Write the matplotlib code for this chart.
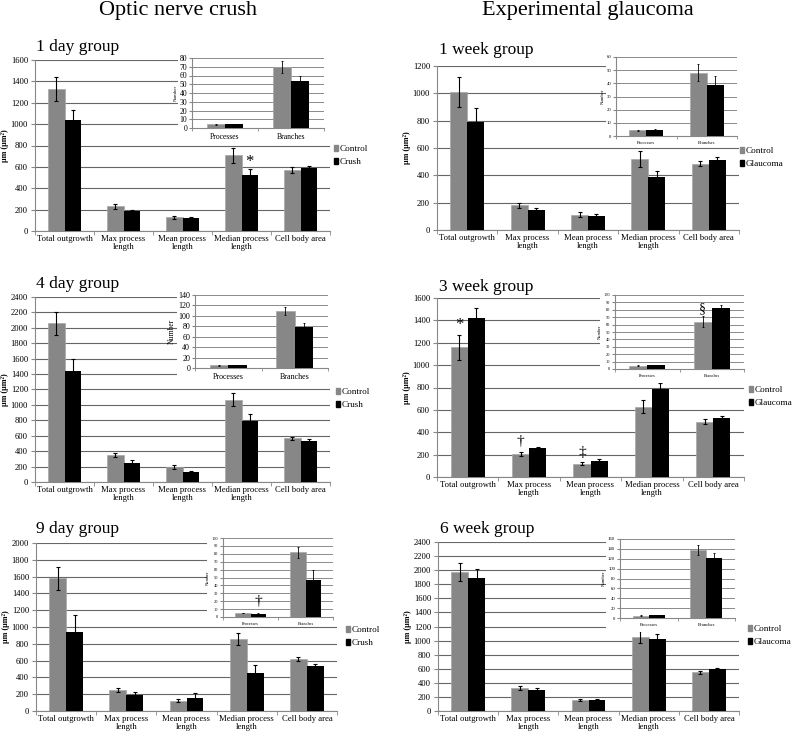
import matplotlib
matplotlib.use("Agg")
import matplotlib.pyplot as plt
from matplotlib.patches import Rectangle
import numpy as np

plt.rcParams["font.family"] = ["Liberation Serif", "DejaVu Serif"]

W, H = 794, 735

CATEGORIES = ["Total outgrowth", "Max process\nlength", "Mean process\nlength",
              "Median process\nlength", "Cell body area"]
INSET_CATS = ["Processes", "Branches"]

# 1 day group (optic nerve crush)
day1_ctrl = [1330, 230, 130, 710, 570]
day1_ctrl_err = [110, 20, 15, 70, 25]
day1_crush = [1035, 185, 118, 525, 585]
day1_crush_err = [100, 15, 12, 55, 20]
day1_in_ctrl = [4.5, 70]
day1_in_ctrl_err = [0.5, 7]
day1_in_crush = [4.3, 54]
day1_in_crush_err = [0.5, 6]

# 4 day group
day4_ctrl = [2060, 350, 195, 1070, 565]
day4_ctrl_err = [150, 30, 25, 90, 25]
day4_crush = [1440, 250, 130, 795, 535]
day4_crush_err = [150, 30, 15, 90, 25]
day4_in_ctrl = [5, 109]
day4_in_ctrl_err = [0.5, 8]
day4_in_crush = [5, 78]
day4_in_crush_err = [0.5, 9]

# 9 day group
day9_ctrl = [1580, 250, 125, 855, 620]
day9_ctrl_err = [140, 20, 15, 75, 25]
day9_crush = [945, 185, 150, 455, 530]
day9_crush_err = [200, 45, 60, 95, 35]
day9_in_ctrl = [5, 82]
day9_in_ctrl_err = [0.5, 7]
day9_in_crush = [4, 47]
day9_in_crush_err = [0.5, 12]

# 1 week group (experimental glaucoma)
wk1_ctrl = [1010, 180, 112, 518, 485]
wk1_ctrl_err = [110, 20, 18, 60, 20]
wk1_glau = [790, 145, 105, 385, 515]
wk1_glau_err = [105, 18, 15, 50, 22]
wk1_in_ctrl = [4.5, 48]
wk1_in_ctrl_err = [0.4, 6.5]
wk1_in_glau = [4.8, 39]
wk1_in_glau_err = [0.3, 6.5]

# 3 week group
wk3_ctrl = [1160, 205, 120, 630, 495]
wk3_ctrl_err = [110, 20, 15, 60, 20]
wk3_glau = [1420, 255, 145, 785, 530]
wk3_glau_err = [90, 15, 15, 55, 18]
wk3_in_ctrl = [4.5, 64]
wk3_in_ctrl_err = [0.5, 7]
wk3_in_glau = [5, 82]
wk3_in_glau_err = [0.5, 5]

# 6 week group
wk6_ctrl = [1970, 330, 155, 1050, 550]
wk6_ctrl_err = [130, 30, 20, 80, 25]
wk6_glau = [1890, 305, 160, 1020, 595]
wk6_glau_err = [130, 25, 15, 80, 20]
wk6_in_ctrl = [5, 137]
wk6_in_ctrl_err = [0.5, 10]
wk6_in_glau = [5.5, 121]
wk6_in_glau_err = [0.5, 10]

GRAY = "#878787"
GRID = "#666666"


def rect(x0, yt, x1, yb):
    return [x0 / W, 1 - yb / H, (x1 - x0) / W, (yb - yt) / H]


def bars(ax, ctrl, ctrl_err, other, other_err, bw, capsize, elw):
    x = np.arange(len(ctrl))
    ax.bar(x - bw / 2, ctrl, bw, color=GRAY, edgecolor="#a8a8a8", linewidth=0.5, zorder=3)
    ax.bar(x + bw / 2, other, bw, color="black", zorder=3)
    ax.errorbar(x - bw / 2, ctrl, yerr=ctrl_err, fmt="none", ecolor="black",
                elinewidth=elw, capsize=capsize, capthick=elw, zorder=4)
    ax.errorbar(x + bw / 2, other, yerr=other_err, fmt="none", ecolor="black",
                elinewidth=elw, capsize=capsize, capthick=elw, zorder=4)
    ax.set_xlim(-0.5, len(ctrl) - 0.5)
    ax.set_xticks(np.arange(len(ctrl) + 1) - 0.5, minor=True)
    ax.tick_params(axis="x", which="minor", length=3, color="#888888")
    ax.tick_params(axis="x", which="major", length=0)
    for s in ["top", "right"]:
        ax.spines[s].set_visible(False)
    for s in ["left", "bottom"]:
        ax.spines[s].set_color("#888888")
        ax.spines[s].set_linewidth(0.8)
    ax.set_axisbelow(True)


def panel(fig, main_box, ymax, ystep, ctrl, ctrl_err, other, other_err,
          inset_box, inset_ymax, inset_step, in_ctrl, in_ctrl_err, in_other, in_other_err,
          inset_fs, number_fs, white_box, title, title_xy, legend_xy, other_name):
    ax = fig.add_axes(rect(*main_box), zorder=1)
    bars(ax, ctrl, ctrl_err, other, other_err, 0.28, 1.5, 0.8)
    ax.set_ylim(0, ymax)
    ax.set_yticks(np.arange(0, ymax + 1, ystep))
    ax.yaxis.grid(True, color=GRID, linewidth=0.8)
    ax.set_xticks(np.arange(5))
    ax.set_xticklabels(CATEGORIES, fontsize=6.2, linespacing=1.05)
    ax.tick_params(axis="x", which="major", pad=3)
    ax.tick_params(axis="y", labelsize=6.2, length=3, color="#888888", pad=2)

    fig.text((main_box[0] - 30) / W, 1 - (main_box[1] + main_box[3]) / 2 / H, "μm (μm²)",
             rotation=90, ha="center", va="center", fontsize=5.8, fontweight="bold")
    fig.text(title_xy[0] / W, 1 - title_xy[1] / H, title, fontsize=12.5,
             ha="left", va="center")

    x0, yt, x1, yb = white_box
    fig.patches.append(Rectangle((x0 / W, 1 - yb / H), (x1 - x0) / W, (yb - yt) / H,
                                 transform=fig.transFigure, facecolor="white",
                                 edgecolor="none", zorder=2))

    ins = fig.add_axes(rect(*inset_box), zorder=3)
    bars(ins, in_ctrl, in_ctrl_err, in_other, in_other_err, 0.28, 1, 0.6)
    ins.set_ylim(0, inset_ymax)
    ins.set_yticks(np.arange(0, inset_ymax + 1, inset_step))
    ins.yaxis.grid(True, color="#8a8a8a", linewidth=0.7)
    ins.set_xticks(np.arange(2))
    ins.set_xticklabels(INSET_CATS, fontsize=inset_fs)
    ins.tick_params(axis="y", labelsize=inset_fs, length=2, color="#888888", pad=1.5)
    ins.tick_params(axis="x", which="minor", length=2)
    ins.set_ylabel("Number", fontsize=number_fs, labelpad=1.5)

    handles = [Rectangle((0, 0), 1, 1, color=GRAY), Rectangle((0, 0), 1, 1, color="black")]
    fig.legend(handles, ["Control", other_name], loc="upper left",
               bbox_to_anchor=(legend_xy[0] / W, 1 - legend_xy[1] / H),
               frameon=False, fontsize=6.6, handlelength=0.45, handleheight=0.7,
               handletextpad=0.15, labelspacing=0.45, borderpad=0, borderaxespad=0)
    return ax, ins


fig = plt.figure(figsize=(W / 100, H / 100), dpi=100)

fig.text(178 / W, 1 - 11 / H, "Optic nerve crush", fontsize=16, ha="center", va="center")
fig.text(588 / W, 1 - 11 / H, "Experimental glaucoma", fontsize=16, ha="center", va="center")

ax1, in1 = panel(fig, (35, 60, 330, 231), 1600, 200, day1_ctrl, day1_ctrl_err,
                 day1_crush, day1_crush_err, (192, 58, 324, 128), 80, 10,
                 day1_in_ctrl, day1_in_ctrl_err, day1_in_crush, day1_in_crush_err,
                 5.5, 3.5, (178, 50, 330, 142), "1 day group", (36, 47), (334, 145), "Crush")
ax1.text(3 + 0.14, 645, "*", fontsize=12, ha="center", va="center")

ax3, in3 = panel(fig, (35, 297, 330, 482), 2400, 200, day4_ctrl, day4_ctrl_err,
                 day4_crush, day4_crush_err, (195, 295, 328, 368), 140, 20,
                 day4_in_ctrl, day4_in_ctrl_err, day4_in_crush, day4_in_crush_err,
                 5.8, 5.5, (177, 287, 330, 382), "4 day group", (36, 284), (336, 388), "Crush")

ax5, in5 = panel(fig, (36, 543, 337, 711), 2000, 200, day9_ctrl, day9_ctrl_err,
                 day9_crush, day9_crush_err, (223, 538, 333, 617), 100, 10,
                 day9_in_ctrl, day9_in_ctrl_err, day9_in_crush, day9_in_crush_err,
                 3.2, 3.2, (207, 530, 337, 626), "9 day group", (36, 529), (346, 626), "Crush")
in5.text(0.14, 19, "†", fontsize=11, ha="center", va="center")

ax2, in2 = panel(fig, (437, 66, 739, 230), 1200, 200, wk1_ctrl, wk1_ctrl_err,
                 wk1_glau, wk1_glau_err, (616, 57, 737, 136), 60, 10,
                 wk1_in_ctrl, wk1_in_ctrl_err, wk1_in_glau, wk1_in_glau_err,
                 3.4, 3.4, (606, 50, 739, 145), "1 week group", (439, 50), (740, 147), "Glaucoma")

ax4, in4 = panel(fig, (437, 298, 744, 477), 1600, 200, wk3_ctrl, wk3_ctrl_err,
                 wk3_glau, wk3_glau_err, (615, 295, 744, 369), 100, 10,
                 wk3_in_ctrl, wk3_in_ctrl_err, wk3_in_glau, wk3_in_glau_err,
                 3.2, 3.2, (600, 287, 744, 383), "3 week group", (439, 287), (749, 386), "Glaucoma")
ax4.text(-0.14, 1358, "*", fontsize=12, ha="center", va="center")
ax4.text(1 - 0.14, 313, "†", fontsize=11, ha="center", va="center")
ax4.text(2 - 0.14, 223, "‡", fontsize=11, ha="center", va="center")
in4.text(1 - 0.14, 82, "§", fontsize=10, ha="center", va="center")

ax6, in6 = panel(fig, (438, 542, 739, 711), 2400, 200, wk6_ctrl, wk6_ctrl_err,
                 wk6_glau, wk6_glau_err, (620, 539, 735, 618), 160, 20,
                 wk6_in_ctrl, wk6_in_ctrl_err, wk6_in_glau, wk6_in_glau_err,
                 3.4, 3.4, (606, 530, 739, 632), "6 week group", (440, 529), (748, 625), "Glaucoma")

fig.savefig("out.png", dpi=100)
